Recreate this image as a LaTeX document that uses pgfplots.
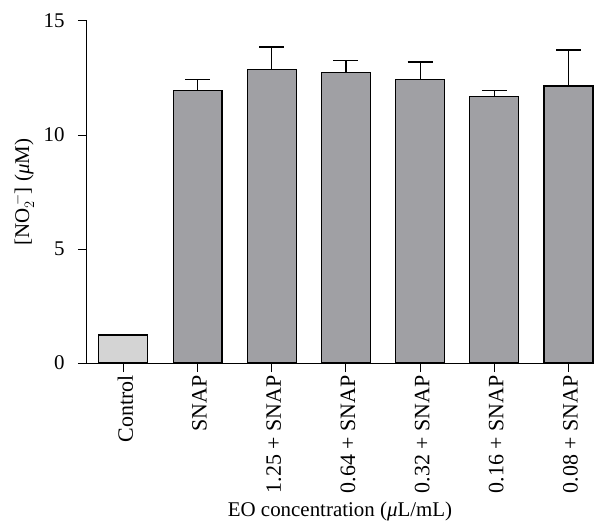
\documentclass[border=0pt]{standalone}
\usepackage{fontspec}
\setmainfont{Liberation Serif}
\usepackage{pgfplots}
\pgfplotsset{compat=1.18}
\definecolor{bargray}{RGB}{160,160,164}
\definecolor{ctrlgray}{RGB}{212,212,212}

\begin{document}
\begin{tikzpicture}
\useasboundingbox (-87bp,-158bp) rectangle (513bp,363bp);
\begin{axis}[
    at={(0,0)}, anchor=south west,
    scale only axis, width=506bp, height=342bp,
    xmin=-0.49, xmax=6.33, ymin=0, ymax=15,
    axis x line*=bottom, axis y line*=left,
    axis line style={line width=1bp},
    ytick={0,5,10,15},
    xtick={0,...,6},
    xticklabels={Control,SNAP,1.25 + SNAP,0.64 + SNAP,0.32 + SNAP,0.16 + SNAP,0.08 + SNAP},
    xticklabel style={rotate=90, anchor=east, yshift=-2bp, font=\fontsize{22}{26}\selectfont},
    yticklabel style={xshift=-10bp, font=\fontsize{21}{24}\selectfont},
    /pgf/number format/assume math mode=true,
    tick align=outside, major tick length=9bp,
    tick style={line width=1bp, black},
    xlabel={EO concentration (\textit{μ}L/mL)},
    ylabel={[NO$_2^{\,-}$] (\textit{μ}M)},
    label style={font=\fontsize{21}{24}\selectfont},
    xlabel style={at={(axis description cs:0.5,-0.45)}, anchor=base},
    ylabel style={at={(axis description cs:-0.125,0.5)}, anchor=center},
    ybar, bar width=0.66, bar shift=0pt,
    clip=false,
]
\addplot[fill=ctrlgray, draw=black, line width=1.1bp,
    error bars/.cd, y dir=plus, y explicit,
    error bar style={line width=1.2bp, black},
    error mark options={rotate=90, mark size=12.5bp, line width=1.2bp, black}]
  coordinates {(0,1.23) +- (0,0.03)};
\addplot[fill=bargray, draw=black, line width=1.1bp,
    error bars/.cd, y dir=plus, y explicit,
    error bar style={line width=1.2bp, black},
    error mark options={rotate=90, mark size=12.5bp, line width=1.2bp, black}]
  coordinates {
    (1,11.97) +- (0,0.47)
    (2,12.88) +- (0,0.98)
    (3,12.73) +- (0,0.53)
    (4,12.44) +- (0,0.76)
    (5,11.69) +- (0,0.25)
    (6,12.15) +- (0,1.58)
  };
\end{axis}
\end{tikzpicture}
\end{document}
